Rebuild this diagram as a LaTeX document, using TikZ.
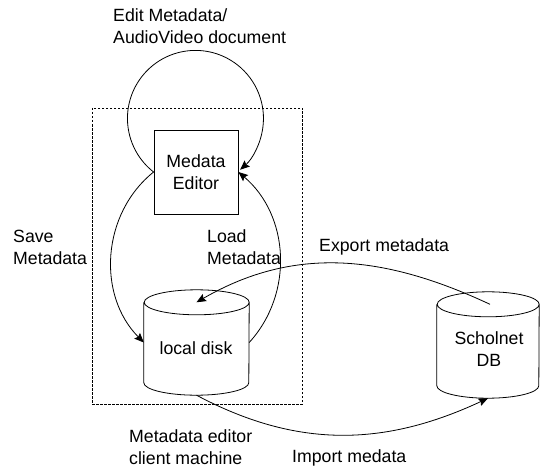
\documentclass[tikz,border=0pt]{standalone}
\usepackage{fontspec}
\setmainfont{Liberation Sans}
\usetikzlibrary{arrows.meta}
\begin{document}
\begin{tikzpicture}[x=1pt,y=1pt,
  every node/.style={font=\fontsize{17.7}{22}\selectfont},
  line/.style={line width=0.8pt},
  flow/.style={line, -{Stealth[length=9.5pt,width=8pt,inset=1.5pt]}},
  box/.style={draw, line width=0.8pt, minimum width=84pt, minimum height=84pt, inner sep=0pt, align=center},
  store/.style={inner sep=0pt},
  txt/.style={align=left, inner sep=0pt, anchor=west}
]
\useasboundingbox (0,0) rectangle (540,472);

% client machine boundary
\node[draw, dash pattern=on 2.5pt off 1.5pt, line width=0.7pt, minimum width=210pt, minimum height=296pt, inner sep=0pt] (client) at (197,216) {};

% editor
\node[box] (editor) at (196,300) {Medata\\Editor};

% the two stores: a bounding node each, drawn as a cylinder
\node[store, minimum width=105pt, minimum height=105pt] (disk) at (196.5,129.5) {};
\node[store, minimum width=102pt, minimum height=106pt] (scholnet) at (488,127) {};
\draw[line] ([yshift=-12.5pt]disk.north west) -- ([yshift=12.5pt]disk.south west)
  arc[start angle=180, end angle=360, x radius=52.5, y radius=12.5]
  -- ([yshift=-12.5pt]disk.north east)
  arc[start angle=0, end angle=360, x radius=52.5, y radius=12.5];
\draw[line] ([yshift=-12.5pt]scholnet.north west) -- ([yshift=12.5pt]scholnet.south west)
  arc[start angle=180, end angle=360, x radius=51, y radius=12.5]
  -- ([yshift=-12.5pt]scholnet.north east)
  arc[start angle=0, end angle=360, x radius=51, y radius=12.5];
\node[inner sep=0pt] (disktxt) at (196,124) {local disk};
\node[inner sep=0pt, align=center] (dbtxt) at (489,123) {Scholnet\\DB};
\coordinate (disktop) at ([yshift=-12.5pt]disk.north);
\coordinate (scholtop) at ([xshift=2pt,yshift=-12.5pt]scholnet.north);

% connectors
\draw[flow] (editor.west) arc[start angle=232, end angle=-49, radius=68];
\draw[flow] (editor.west) to[bend right=48] (disk.west);
\draw[flow] (disk.east) to[bend right=46] (editor.east);
\draw[flow] (scholtop) to[out=155, in=30] (disktop);
\draw[flow] (disk.south) to[out=-28, in=205] (scholnet.south);

% labels
\node[txt] (editlbl) at (113,446) {Edit Metadata/\\AudioVideo document};
\node[txt] (savelbl) at (13,225) {Save\\Metadata};
\node[txt] (loadlbl) at (207,225) {Load\\Metadata};
\node[txt] (exportlbl) at (319,225) {Export metadata};
\node[txt] (clientlbl) at (129,25) {Metadata editor\\client machine};
\node[txt] (importlbl) at (292,14) {Import medata};
\end{tikzpicture}
\end{document}
